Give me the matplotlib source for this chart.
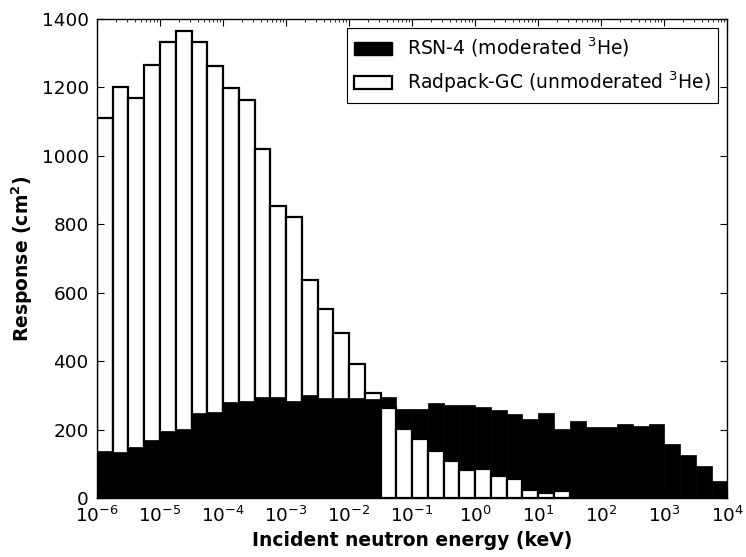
import numpy as np
import matplotlib
matplotlib.use("Agg")
import matplotlib.pyplot as plt
from matplotlib.patches import Patch

# Bin edges: 4 bins per decade from 1e-6 to 1e4 keV
decade_start = -6
decade_end = 4
bins_per_decade = 4

radpack_gc = [1110, 1200, 1170, 1265, 1333, 1364, 1333, 1263, 1199, 1162,
              1021, 853, 821, 637, 551, 483, 391, 308, 263, 203,
              173, 137, 109, 82, 86, 63, 56, 22, 14, 19,
              4, 5, 7, 0, 0, 0, 0, 1, 0, 0]
rsn4 = [138, 133, 148, 170, 195, 201, 247, 252, 279, 282,
        295, 296, 282, 302, 291, 291, 293, 290, 294, 260,
        260, 277, 272, 272, 266, 258, 246, 231, 248, 201,
        224, 207, 207, 215, 211, 215, 157, 126, 93, 51]

label_rsn = r"RSN-4 (moderated $^3$He)"
label_rad = r"Radpack-GC (unmoderated $^3$He)"

edges = np.logspace(decade_start, decade_end, (decade_end - decade_start) * bins_per_decade + 1)
left = edges[:-1]
width = edges[1:] - edges[:-1]
white = np.array(radpack_gc, dtype=float)
black = np.array(rsn4, dtype=float)

plt.rcParams['font.family'] = ['DejaVu Sans']
plt.rcParams['font.size'] = 13

fig = plt.figure(figsize=(7.46, 5.57), dpi=100)
ax = fig.add_axes([0.130, 0.106, 0.845, 0.860])

lw = 1.6
back_w = white >= black
# larger bar drawn behind, smaller in front
ax.bar(left[back_w], white[back_w], width=width[back_w], align='edge',
       facecolor='white', edgecolor='black', linewidth=lw, zorder=1)
ax.bar(left, black, width=width, align='edge',
       facecolor='black', edgecolor='black', linewidth=0.5, zorder=2)
ax.bar(left[~back_w], white[~back_w], width=width[~back_w], align='edge',
       facecolor='white', edgecolor='black', linewidth=lw, zorder=3)

ax.set_xscale('log')
ax.set_xlim(1e-6, 1e4)
ax.set_ylim(0, 1400)
ax.set_yticks(np.arange(0, 1401, 200))
ax.xaxis.set_major_locator(matplotlib.ticker.LogLocator(base=10, numticks=20))
ax.xaxis.set_minor_locator(matplotlib.ticker.LogLocator(base=10, subs=np.arange(2, 10), numticks=100))
ax.xaxis.set_minor_formatter(matplotlib.ticker.NullFormatter())

ax.tick_params(which='both', direction='in', top=True, right=True, labelsize=13.3, colors='black')
ax.tick_params(axis='x', which='major', length=5, width=0.8, pad=6)
ax.tick_params(axis='y', which='major', length=5, width=0.8, pad=6)
ax.tick_params(which='minor', length=2.5, width=0.6)
for s in ax.spines.values():
    s.set_linewidth(1.0)
    s.set_zorder(5)

ax.set_xlabel("Incident neutron energy (keV)", fontweight='bold', fontsize=13.5, labelpad=3)
ax.set_ylabel(r"Response (cm$^\mathbf{2}$)", fontweight='bold', fontsize=13.5, labelpad=5)

handles = [Patch(facecolor='black', edgecolor='black'),
           Patch(facecolor='white', edgecolor='black', linewidth=lw)]
leg = ax.legend(handles, [label_rsn, label_rad], loc='upper right', fontsize=13.5,
                fancybox=False, frameon=True, edgecolor='black', framealpha=1,
                borderaxespad=0.5, handlelength=2.0, labelspacing=0.55)
leg.get_frame().set_linewidth(0.8)
leg.set_zorder(10)

fig.savefig("out.png", dpi=100)
